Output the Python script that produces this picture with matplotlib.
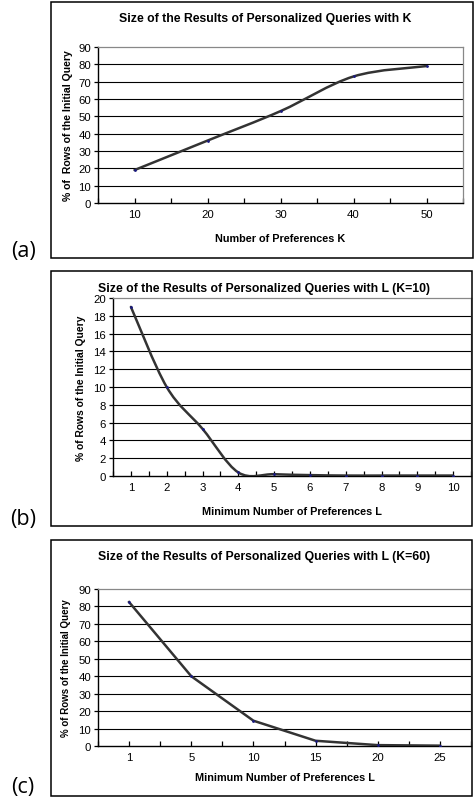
import numpy as np
import matplotlib
matplotlib.use("Agg")
from matplotlib import pyplot as plt
from matplotlib.path import Path
from matplotlib.patches import PathPatch, Rectangle

# data (categorical x axes, Excel style)
k_labels = ['10', '20', '30', '40', '50']
k_values = [19, 36, 53, 73, 79]

l10_labels = ['1', '2', '3', '4', '5', '6', '7', '8', '9', '10']
l10_values = [19, 10, 5.3, 0.4, 0.2, 0.1, 0.05, 0.05, 0.05, 0.05]

l60_labels = ['1', '5', '10', '15', '20', '25']
l60_values = [82.5, 40, 14.5, 3, 0.5, 0.2]

W, H = 474, 804


def fx(px):
    return px / W


def fy(py):
    return 1 - py / H


def smooth_path(xs, ys):
    # Excel-like smoothed line: Catmull-Rom segments as cubic Beziers
    pts = np.column_stack([xs, ys]).astype(float)
    n = len(pts)
    verts = [pts[0]]
    codes = [Path.MOVETO]
    for i in range(n - 1):
        p0 = pts[i - 1] if i > 0 else pts[i]
        p1 = pts[i]
        p2 = pts[i + 1]
        p3 = pts[i + 2] if i + 2 < n else pts[i + 1]
        c1 = p1 + (p2 - p0) / 6.0
        c2 = p2 - (p3 - p1) / 6.0
        verts += [c1, c2, p2]
        codes += [Path.CURVE4] * 3
    return Path(verts, codes)


def panel(box, frame, labels, values, ymax, ystep, smooth, title, xlabel,
          ylab, tag, title_y, xlab_y, ylab_x, ylab_size, tag_y):
    left, top, right, bottom = box
    ax = fig.add_axes([fx(left), fy(bottom), fx(right - left), (bottom - top) / H])
    n = len(labels)
    x = np.arange(n)
    ax.set_xlim(-0.5, n - 0.5)
    ax.set_ylim(0, ymax)
    yt = np.arange(0, ymax + ystep / 2, ystep)
    ax.set_yticks(yt)
    ax.set_yticklabels([str(int(v)) for v in yt])
    for v in yt[1:-1]:
        ax.axhline(v, color='black', lw=0.8, zorder=1)
    ax.set_xticks(x)
    ax.set_xticklabels(labels)
    ax.set_xticks(np.arange(-0.5, n, 1.0), minor=True)
    ax.tick_params(axis='x', which='both', direction='in', length=3.5,
                   width=0.9, labelsize=8.2, pad=4)
    ax.tick_params(axis='y', direction='out', length=3, width=0.9,
                   labelsize=8.2, pad=2)
    for lab in ax.get_xticklabels() + ax.get_yticklabels():
        lab.set_family('Liberation Sans')
    for s in ['top', 'right']:
        ax.spines[s].set_color('#888888')
        ax.spines[s].set_linewidth(0.9)
    for s in ['left', 'bottom']:
        ax.spines[s].set_linewidth(1.0)

    if smooth:
        ax.add_patch(PathPatch(smooth_path(x, values), fill=False,
                               edgecolor='#333333', lw=1.8, zorder=3,
                               capstyle='round', joinstyle='round'))
    else:
        ax.plot(x, values, color='#333333', lw=1.8, zorder=3,
                solid_joinstyle='round')
    ax.plot(x, values, ls='none', marker='.', ms=2, color='#1a1a80', zorder=4)

    fl, ft, fr, fb = frame
    fig.add_artist(Rectangle((fx(fl), fy(fb)), fx(fr - fl), (fb - ft) / H,
                             transform=fig.transFigure, fill=False,
                             edgecolor='black', lw=1.1))
    cx = (fl + fr) / 2 + 3
    fig.text(fx(cx), fy(title_y), title, ha='center', va='center',
             fontsize=8.8, fontweight='bold', family='Liberation Sans')
    fig.text(fx((left + right) / 2), fy(xlab_y), xlabel, ha='center',
             va='center', fontsize=7.8, fontweight='bold',
             family='Liberation Sans')
    fig.text(fx(ylab_x), fy((top + bottom) / 2), ylab, ha='center',
             va='center', rotation=90, fontsize=ylab_size, fontweight='bold',
             family='Liberation Sans')
    fig.text(fx(23), fy(tag_y), tag, ha='center', va='center',
             fontsize=15.5, family='Open Sans')
    return ax


fig = plt.figure(figsize=(W / 100, H / 100), dpi=100)

panel((98, 48, 463, 204), (51, 3, 473, 259), k_labels, k_values, 90, 10, True,
      'Size of the Results of Personalized Queries with K',
      'Number of Preferences K', '% of  Rows of the Initial Query', '(a)',
      19, 239, 68, 7.6, 252)

panel((113, 299, 471, 477), (51, 272, 472, 527), l10_labels, l10_values, 20, 2, True,
      'Size of the Results of Personalized Queries with L (K=10)',
      'Minimum Number of Preferences L', '% of Rows of the Initial Query', '(b)',
      289, 512, 81, 7.4, 520)

panel((98, 590, 471, 747), (51, 541, 472, 797), l60_labels, l60_values, 90, 10, False,
      'Size of the Results of Personalized Queries with L (K=60)',
      'Minimum Number of Preferences L', '% of Rows of the Initial Query', '(c)',
      557, 778, 66, 7.0, 788)

fig.savefig('out.png', dpi=100)
